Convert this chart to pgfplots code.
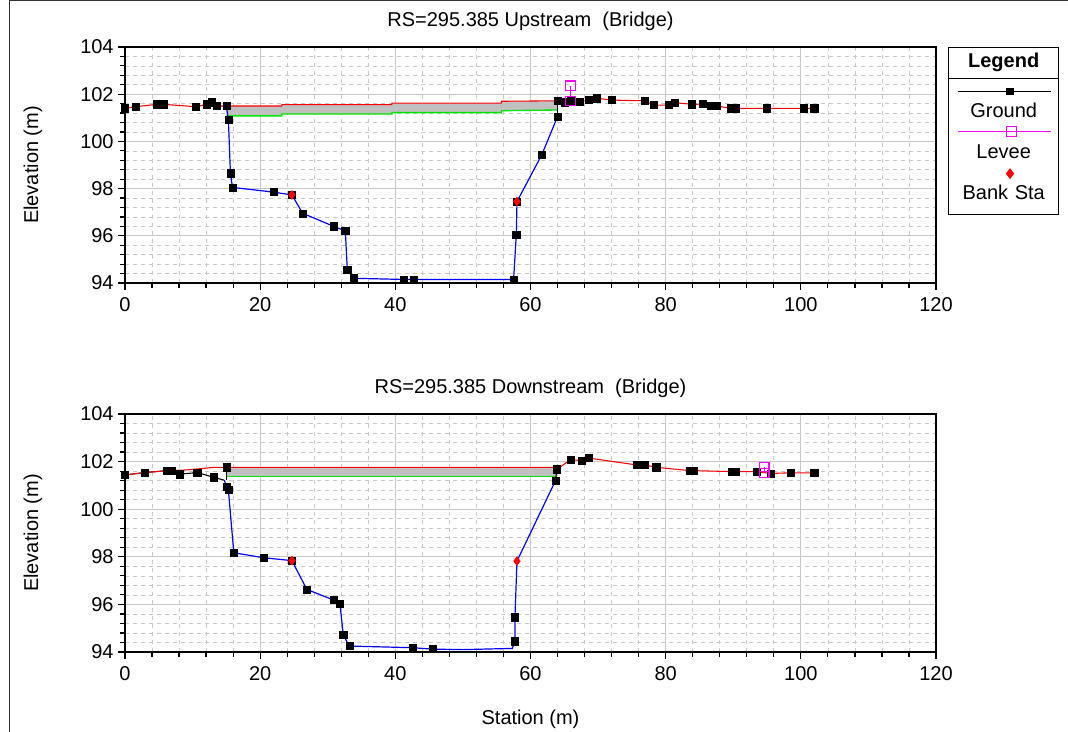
\documentclass[border=0pt]{standalone}
\usepackage{fontspec}
\setmainfont{Liberation Sans}
\usepackage{pgfplots}
\pgfplotsset{compat=1.18}

\definecolor{hcred}{RGB}{255,0,0}
\definecolor{lcgreen}{RGB}{0,230,0}
\definecolor{deckgray}{RGB}{192,192,192}
\definecolor{chanblue}{RGB}{0,0,255}
\definecolor{leveemag}{RGB}{255,0,255}
\definecolor{gridgray}{RGB}{200,200,200}
\newcommand{\chartfont}{\fontsize{15}{18}\selectfont}

\pgfplotsset{
  xsaxis/.style={
    scale only axis, width=608.25pt,
    xmin=0, xmax=120, ymin=94, ymax=104,
    xtick={0,20,...,120}, ytick={94,96,...,104},
    minor x tick num=4, minor y tick num=4,
    grid=both,
    major grid style={draw=gridgray, line width=0.7pt},
    minor grid style={draw=gridgray, dashed, line width=0.5pt},
    axis line style={black, line width=2.2pt},
    tick align=outside, xtick pos=bottom, ytick pos=left,
    tick style={black, line width=0.9pt},
    major tick length=5pt, minor tick length=3.5pt,
    /pgf/number format/assume math mode=true,
    tick label style={font=\chartfont},
    xticklabel style={yshift=-2pt},
    title style={font=\chartfont, at={(axis description cs:0.5,1)}, anchor=base, yshift=9pt},
    ylabel={Elevation (m)},
    ylabel style={font=\chartfont, at={(axis description cs:-0.1134,0.5)}, anchor=center},
    clip=false,
  },
  gmark/.style={only marks, mark=square*, mark size=2.7pt, mark options={black, fill=black}},
}

\begin{document}
\begin{tikzpicture}
\useasboundingbox (0,0) rectangle (801pt,549pt);
\draw[line width=0.75pt, black!80] (6.75pt,0pt) -- (6.75pt,548.6pt) -- (801pt,548.6pt);

% ---------------- Upstream ----------------
\begin{axis}[xsaxis, at={(93.75pt,336.75pt)}, anchor=south west, height=177pt,
  title={RS=295.385 Upstream\ \ (Bridge)},
  legend style={at={(axis description cs:1.0148,1)}, anchor=north west,
    draw=black, line width=1pt, inner sep=0pt, row sep=0pt, column sep=0pt,
    nodes={inner sep=0pt, text width=82.5pt, align=center, font=\chartfont},
    cells={anchor=center}},
  legend cell align=center]
% deck fill
\addplot[fill=deckgray, draw=none, forget plot] coordinates {
 (15,101.5) (23.2,101.5) (23.2,101.56) (39.5,101.56) (39.5,101.62) (55.7,101.62) (55.7,101.7) (64,101.72)
 (64,101.33) (55.7,101.3) (55.7,101.22) (39.5,101.22) (39.5,101.16) (23.2,101.16) (23.2,101.08) (15,101.08)} -- cycle;
% high chord
\addplot[hcred, line width=0.8pt, forget plot] coordinates {
 (15,101.5) (23.2,101.5) (23.2,101.56) (39.5,101.56) (39.5,101.62) (55.7,101.62) (55.7,101.7) (64,101.72)};
% low chord
\addplot[lcgreen, line width=1pt, forget plot] coordinates {
 (15,101.08) (23.2,101.08) (23.2,101.16) (39.5,101.16) (39.5,101.22) (55.7,101.22) (55.7,101.3) (64,101.33)};
% left overbank ground
\addplot[hcred, line width=0.8pt, forget plot] coordinates {
 (0,101.4) (1.6,101.47) (4.7,101.57) (5.7,101.57) (10.5,101.47) (12.1,101.57) (12.8,101.66) (13.6,101.5) (15.0,101.5)};
% channel
\addplot[chanblue, line width=0.9pt, forget plot] coordinates {
 (15.0,101.5) (15.3,100.9) (15.6,98.65) (15.9,98.05) (22.0,97.85) (24.7,97.73) (26.3,96.95) (30.9,96.4)
 (32.6,96.2) (32.9,94.55) (33.8,94.2) (41.2,94.15) (42.7,94.15) (57.5,94.15) (57.9,96.05) (58.0,97.45)
 (61.7,99.45) (64.0,101.05)};
\addplot[black, line width=0.9pt, forget plot] coordinates {(64.0,101.05) (64.0,101.72)};
% right overbank ground
\addplot[hcred, line width=0.8pt, forget plot] coordinates {
 (64.0,101.72) (65.1,101.66) (65.9,101.72) (67.3,101.68) (68.6,101.75) (69.8,101.83) (72.0,101.75)
 (76.9,101.72) (78.2,101.54) (80.4,101.54) (81.4,101.64) (83.9,101.57) (85.5,101.58) (86.7,101.5)
 (87.6,101.5) (89.6,101.4) (90.4,101.4) (94.9,101.4) (100.4,101.4) (102.0,101.4)};
% ground marks
\addplot[gmark, forget plot] coordinates {
 (0,101.4) (1.6,101.47) (4.7,101.57) (5.7,101.57) (10.5,101.47) (12.1,101.57) (12.8,101.66) (13.6,101.5) (15.0,101.5)
 (15.3,100.9) (15.6,98.65) (15.9,98.05) (22.0,97.85) (24.7,97.73) (26.3,96.95) (30.9,96.4)
 (32.6,96.2) (32.9,94.55) (33.8,94.2) (41.2,94.15) (42.7,94.15) (57.5,94.15) (57.9,96.05) (58.0,97.45)
 (61.7,99.45) (64.0,101.05)
 (64.0,101.72) (65.1,101.66) (65.9,101.72) (67.3,101.68) (68.6,101.75) (69.8,101.83) (72.0,101.75)
 (76.9,101.72) (78.2,101.54) (80.4,101.54) (81.4,101.64) (83.9,101.57) (85.5,101.58) (86.7,101.5)
 (87.6,101.5) (89.6,101.4) (90.4,101.4) (94.9,101.4) (100.4,101.4) (102.0,101.4)};
% levee
\addplot[leveemag, line width=0.8pt, mark=square, mark size=3.5pt, forget plot] coordinates {(65.9,101.72) (65.9,102.36)};
% bank stations
\addplot[only marks, mark=diamond*, mark size=3.3pt, red, forget plot] coordinates {(24.7,97.73) (58.0,97.45)};
% heavy frame
\draw[black, line width=2.2pt] (rel axis cs:0,0) rectangle (rel axis cs:1,1);

% legend
\addlegendimage{legend image code/.code={\draw[overlay, black, line width=0.75pt] (0pt,-11.6pt) -- (82.5pt,-11.6pt);}}
\addlegendentry[text height=15pt, text depth=8.25pt, font=\chartfont\bfseries]{Legend}
\addlegendimage{legend image code/.code={\draw[overlay, black, line width=0.75pt, mark=square*, mark size=2.5pt, mark options={fill=black}, mark repeat=2, mark phase=2] plot coordinates {(6.75pt,6pt) (46pt,6pt) (76.5pt,6pt)};}}
\addlegendentry[text height=29.25pt, text depth=2.25pt]{Ground}
\addlegendimage{legend image code/.code={\draw[overlay, leveemag, line width=0.75pt, mark=square, mark size=3.5pt, mark repeat=2, mark phase=2] plot coordinates {(6.75pt,7.5pt) (47pt,7.5pt) (76.5pt,7.5pt)};}}
\addlegendentry[text height=28.5pt, text depth=3pt]{Levee}
\addlegendimage{legend image code/.code={\path[overlay] plot[mark=diamond*, mark size=3.3pt, mark options={red, fill=red}] coordinates {(46pt,11.25pt)};}}
\addlegendentry[text height=27.75pt, text depth=11.25pt]{Bank Sta}
\end{axis}

% ---------------- Downstream ----------------
\begin{axis}[xsaxis, at={(93.75pt,60pt)}, anchor=south west, height=178.5pt,
  title={RS=295.385 Downstream\ \ (Bridge)},
  xlabel={Station (m)},
  xlabel style={font=\chartfont, at={(axis description cs:0.5,0)}, anchor=base, yshift=-54.75pt}]
\addplot[fill=deckgray, draw=none] coordinates {(15,101.76) (63.9,101.76) (63.9,101.37) (15,101.37)} -- cycle;
% left overbank ground (black)
\addplot[black, line width=0.8pt] coordinates {
 (0,101.44) (2.96,101.54) (6.2,101.62) (6.9,101.62) (8.1,101.47) (10.7,101.54) (13.1,101.34) (14.7,101.22)};
% high chord / red
\addplot[hcred, line width=0.8pt] coordinates {
 (0,101.44) (2.96,101.54) (6.5,101.62) (9.1,101.65) (13.3,101.76) (63.9,101.76)};
\addplot[lcgreen, line width=1pt] coordinates {(15,101.37) (63.7,101.37)};
\addplot[black, line width=0.9pt] coordinates {(15,101.22) (15,101.76)};
% channel
\addplot[chanblue, line width=0.9pt] coordinates {
 (14.7,101.22) (15.0,100.95) (15.3,100.8) (16.1,98.17) (20.5,97.96) (24.7,97.84) (26.9,96.63) (30.9,96.18)
 (31.8,96.04) (32.3,94.71) (33.2,94.25) (42.6,94.18) (45.5,94.12) (50,94.1) (57.3,94.15) (57.7,94.45)
 (57.7,95.46) (58.0,97.82) (63.7,101.2)};
\addplot[black, line width=0.9pt] coordinates {(63.7,101.2) (63.9,101.68)};
% right overbank ground
\addplot[hcred, line width=0.8pt] coordinates {
 (63.9,101.68) (65.9,102.07) (67.6,102.05) (68.6,102.15) (75.7,101.86) (76.9,101.86) (78.6,101.76)
 (83.6,101.62) (84.1,101.62) (89.8,101.58) (90.4,101.58) (93.5,101.58) (95.5,101.5) (98.5,101.53) (102,101.53)};
% ground marks
\addplot[gmark] coordinates {
 (0,101.44) (2.96,101.54) (6.2,101.62) (6.9,101.62) (8.1,101.47) (10.7,101.54) (13.1,101.34) (15,101.76)
 (15.0,100.95) (15.3,100.8) (16.1,98.17) (20.5,97.96) (24.7,97.84) (26.9,96.63) (30.9,96.18)
 (31.8,96.04) (32.3,94.71) (33.2,94.25) (42.6,94.18) (45.5,94.12) (57.7,94.45)
 (57.7,95.46) (63.7,101.2)
 (63.9,101.68) (65.9,102.07) (67.6,102.05) (68.6,102.15) (75.7,101.86) (76.9,101.86) (78.6,101.76)
 (83.6,101.62) (84.1,101.62) (89.8,101.58) (90.4,101.58) (93.5,101.58) (95.5,101.5) (98.5,101.53) (102,101.53)};
\addplot[leveemag, line width=0.8pt, mark=square, mark size=3.5pt] coordinates {(94.6,101.52) (94.6,101.78)};
\addplot[only marks, mark=diamond*, mark size=3.3pt, red] coordinates {(24.7,97.84) (58.0,97.82)};
% heavy frame
\draw[black, line width=2.2pt] (rel axis cs:0,0) rectangle (rel axis cs:1,1);
\end{axis}
\end{tikzpicture}
\end{document}
